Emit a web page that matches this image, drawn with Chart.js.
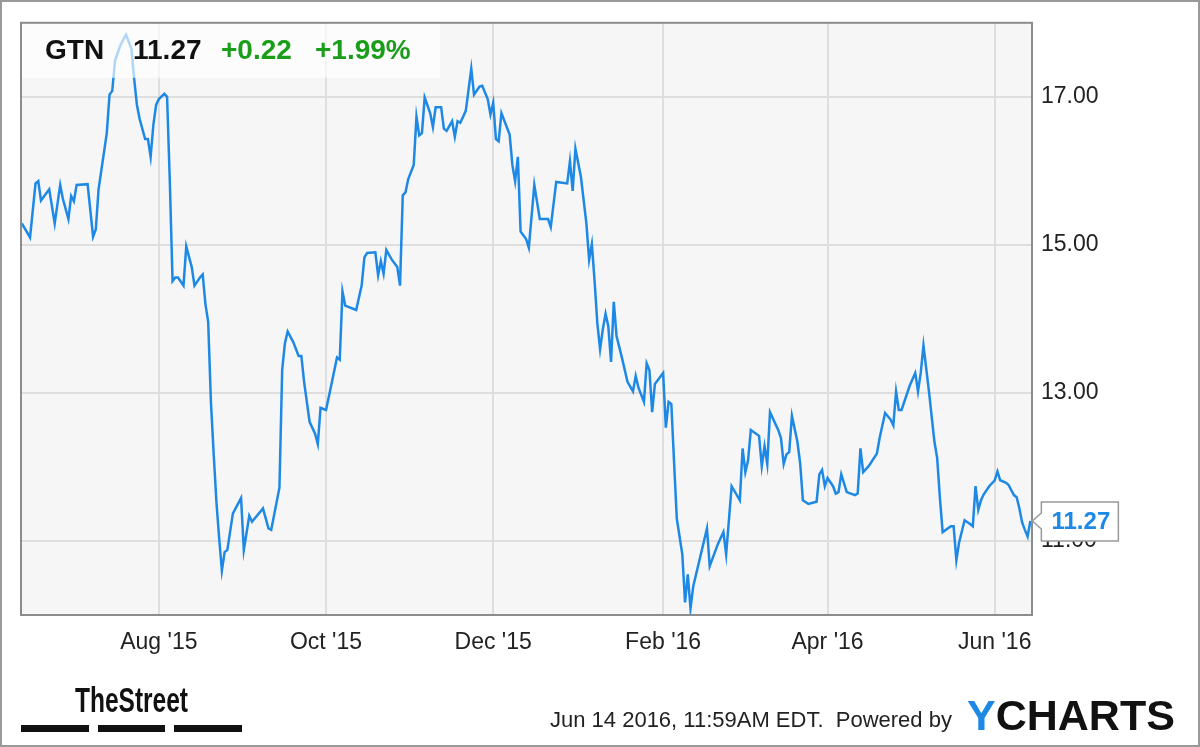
<!DOCTYPE html>
<html>
<head>
<meta charset="utf-8">
<script src="https://cdn.jsdelivr.net/npm/chart.js@4.4.1/dist/chart.umd.min.js"></script>
<style>
  html, body { margin: 0; padding: 0; background: #fff; }
  canvas { display: block; }
</style>
</head>
<body>
<canvas id="chart" width="1200" height="747"></canvas>
<script>
const ticker = 'GTN';
const lastPrice = '11.27';
const change = '+0.22';
const changePct = '+1.99%';
const stamp = 'Jun 14 2016, 11:59AM EDT.  Powered by';

// days counted from 12 Jun 2015
const dayOffsets = [
  0, 3, 5, 6, 7, 9, 10, 12, 14, 15, 17, 18, 19, 20, 24, 26, 27, 28, 31, 32,
  33, 34, 36, 38, 40, 41, 42, 43, 45, 46, 47, 48, 49, 50, 52, 53, 54, 55, 56, 57,
  59, 60, 62, 63, 65, 66, 67, 68, 69, 70, 71, 72, 73, 74, 75, 77, 78, 80, 81, 83,
  84, 88, 90, 91, 94, 95, 96, 97, 99, 101, 102, 103, 105, 107, 108, 109, 111, 113, 115, 116,
  117, 118, 122, 124, 125, 126, 129, 130, 131, 132, 133, 135, 137, 138, 139, 140, 141, 143, 144, 145,
  146, 147, 149, 150, 151, 153, 154, 155, 157, 158, 159, 160, 162, 164, 165, 167, 168, 170, 171, 172,
  173, 174, 175, 178, 179, 180, 181, 182, 184, 185, 187, 189, 192, 193, 195, 199, 200, 201, 202, 204,
  206, 207, 208, 209, 210, 211, 212, 213, 214, 215, 216, 217, 219, 221, 223, 224, 225, 227, 228, 229,
  230, 231, 234, 235, 236, 237, 238, 239, 240, 241, 242, 243, 244, 245, 250, 251, 254, 256, 257, 259,
  262, 263, 264, 265, 266, 269, 270, 271, 272, 273, 276, 277, 278, 279, 280, 281, 283, 284, 285, 287,
  290, 291, 292, 293, 294, 296, 297, 298, 299, 301, 304, 305, 306, 307, 309, 312, 313, 315, 317, 318,
  319, 320, 321, 324, 326, 327, 328, 329, 331, 333, 334, 335, 336, 339, 340, 341, 342, 344, 346, 347,
  348, 349, 350, 351, 353, 355, 356, 357, 359, 360, 362, 363, 364, 365, 366, 367, 368
];

const prices = [
  15.29, 15.10, 15.83, 15.86, 15.60, 15.70, 15.75, 15.29, 15.81, 15.62, 15.35, 15.66, 15.59, 15.81, 15.82, 15.11, 15.21, 15.75, 16.51, 17.03,
  17.08, 17.49, 17.70, 17.84, 17.65, 17.24, 16.89, 16.70, 16.43, 16.43, 16.19, 16.62, 16.89, 16.97, 17.04, 17.00, 15.86, 14.51, 14.56, 14.56,
  14.45, 14.98, 14.70, 14.45, 14.56, 14.60, 14.20, 13.96, 12.88, 12.18, 11.53, 11.04, 10.60, 10.85, 10.88, 11.37, 11.44, 11.58, 10.88, 11.34,
  11.26, 11.44, 11.17, 11.15, 11.72, 13.31, 13.67, 13.83, 13.69, 13.50, 13.50, 13.15, 12.61, 12.45, 12.31, 12.80, 12.77, 13.12, 13.48, 13.45,
  14.37, 14.18, 14.12, 14.45, 14.83, 14.89, 14.90, 14.59, 14.78, 14.61, 14.93, 14.80, 14.70, 14.45, 15.67, 15.71, 15.89, 16.08, 16.73, 16.48,
  16.51, 16.99, 16.78, 16.59, 16.86, 16.86, 16.57, 16.54, 16.67, 16.46, 16.67, 16.65, 16.81, 17.38, 17.03, 17.14, 17.15, 16.97, 16.76, 16.92,
  16.43, 16.40, 16.78, 16.49, 16.08, 15.86, 16.19, 15.18, 15.08, 14.96, 15.81, 15.35, 15.35, 15.24, 15.85, 15.83, 16.13, 15.73, 16.30, 15.92,
  15.29, 14.80, 15.01, 14.51, 13.94, 13.59, 13.86, 14.07, 13.90, 13.42, 14.23, 13.77, 13.47, 13.15, 13.02, 13.23, 13.07, 12.88, 13.40, 13.31,
  12.74, 13.12, 13.27, 12.53, 12.88, 12.85, 12.06, 11.30, 11.06, 10.82, 10.17, 10.55, 10.09, 10.39, 11.17, 10.66, 10.96, 11.12, 10.82, 11.74,
  11.55, 12.25, 11.93, 12.09, 12.50, 12.42, 12.01, 12.28, 12.04, 12.74, 12.50, 12.39, 12.04, 12.17, 12.20, 12.69, 12.34, 12.05, 11.55, 11.50,
  11.53, 11.90, 11.96, 11.74, 11.85, 11.74, 11.64, 11.66, 11.90, 11.66, 11.62, 11.64, 12.25, 11.93, 12.01, 12.18, 12.39, 12.73, 12.64, 12.56,
  13.02, 12.77, 12.77, 13.10, 13.27, 13.02, 13.27, 13.64, 13.02, 12.34, 12.12, 11.58, 11.12, 11.20, 11.20, 10.74, 10.98, 11.28, 11.23, 11.20,
  11.74, 11.42, 11.55, 11.63, 11.74, 11.82, 11.94, 11.82, 11.79, 11.76, 11.62, 11.59, 11.44, 11.25, 11.15, 11.06, 11.27
];

const tickDays = [50, 111, 172, 234, 294, 355];
const tickLabels = ["Aug '15", "Oct '15", "Dec '15", "Feb '16", "Apr '16", "Jun '16"];
const priceTicks = [11, 13, 15, 17];

const blue = '#1e88e5';
const green = '#1a9e1a';
const font = '"Liberation Sans", Arial, sans-serif';

const points = dayOffsets.map((d, i) => ({ x: d, y: prices[i] }));

const decor = {
  id: 'decor',
  beforeDraw(chart) {
    const { ctx, chartArea: a, width, height } = chart;
    ctx.save();
    ctx.fillStyle = '#fff';
    ctx.fillRect(0, 0, width, height);
    ctx.fillStyle = '#f6f6f6';
    ctx.fillRect(a.left, a.top, a.right - a.left, a.bottom - a.top);
    ctx.restore();
  },
  afterDatasetsDraw(chart) {
    const { ctx, chartArea: a } = chart;
    ctx.save();
    // quote box, over the line
    ctx.fillStyle = 'rgba(255,255,255,0.65)';
    ctx.fillRect(a.left + 1, a.top + 1, 418, 54);
    ctx.textBaseline = 'alphabetic';
    ctx.font = 'bold 28px ' + font;
    ctx.fillStyle = '#111';
    ctx.fillText(ticker, 45, 59);
    ctx.fillText(lastPrice, 133, 59);
    ctx.fillStyle = green;
    ctx.fillText(change, 221, 59);
    ctx.fillText(changePct, 315, 59);
    // plot frame
    ctx.strokeStyle = '#8c8c8c';
    ctx.lineWidth = 2;
    ctx.strokeRect(a.left, a.top, a.right - a.left, a.bottom - a.top);
    ctx.restore();
  },
  afterDraw(chart) {
    const { ctx, width, height } = chart;
    const meta = chart.getDatasetMeta(0).data;
    const last = meta[meta.length - 1];
    ctx.save();

    // last value callout
    const bx = last.x + 11, by = last.y - 19, bw = 77, bh = 39;
    ctx.beginPath();
    ctx.moveTo(bx, by);
    ctx.lineTo(bx + bw, by);
    ctx.lineTo(bx + bw, by + bh);
    ctx.lineTo(bx, by + bh);
    ctx.lineTo(bx, last.y + 8);
    ctx.lineTo(last.x + 2, last.y);
    ctx.lineTo(bx, last.y - 8);
    ctx.closePath();
    ctx.fillStyle = '#fff';
    ctx.fill();
    ctx.strokeStyle = '#999';
    ctx.lineWidth = 1.5;
    ctx.stroke();
    ctx.fillStyle = blue;
    ctx.font = 'bold 24px ' + font;
    ctx.textAlign = 'center';
    ctx.textBaseline = 'middle';
    ctx.fillText(prices[prices.length - 1].toFixed(2), bx + bw / 2 + 1, by + bh / 2 + 1);

    // footer
    ctx.textAlign = 'left';
    ctx.textBaseline = 'alphabetic';
    ctx.fillStyle = '#222';
    ctx.font = '22px ' + font;
    ctx.fillText(stamp, 550, 727);

    ctx.font = 'bold 43px ' + font;
    ctx.fillStyle = blue;
    ctx.fillText('Y', 967, 730);
    const yw = ctx.measureText('Y').width;
    ctx.fillStyle = '#111';
    ctx.fillText('CHARTS', 967 + yw, 730);

    // TheStreet logo
    ctx.save();
    ctx.font = 'bold 35px ' + font;
    const tw = ctx.measureText('TheStreet').width;
    ctx.translate(75, 712);
    ctx.scale(113 / tw, 1);
    ctx.fillStyle = '#111';
    ctx.fillText('TheStreet', 0, 0);
    ctx.restore();
    ctx.fillStyle = '#111';
    ctx.fillRect(21, 725, 68, 7);
    ctx.fillRect(98, 725, 67, 7);
    ctx.fillRect(174, 725, 68, 7);

    // outer frame
    ctx.strokeStyle = '#999';
    ctx.lineWidth = 2;
    ctx.strokeRect(1, 1, width - 2, height - 2);
    ctx.restore();
  }
};

new Chart(document.getElementById('chart'), {
  type: 'line',
  data: {
    datasets: [{
      data: points,
      borderColor: blue,
      borderWidth: 2.5,
      pointRadius: 0,
      tension: 0,
      fill: false
    }]
  },
  options: {
    responsive: false,
    animation: false,
    devicePixelRatio: 1,
    layout: { padding: { left: 21, top: 21, right: 0, bottom: 0 } },
    plugins: { legend: { display: false }, tooltip: { enabled: false } },
    scales: {
      x: {
        type: 'linear',
        min: -0.3,
        max: 368.6,
        afterBuildTicks(scale) { scale.ticks = tickDays.map(v => ({ value: v })); },
        afterFit(scale) { scale.height = 132; },
        grid: { color: '#dedede', lineWidth: 2, drawTicks: false },
        border: { display: false },
        ticks: {
          padding: 14,
          color: '#222',
          font: { family: font, size: 23 },
          maxRotation: 0,
          autoSkip: false,
          callback: (v, i) => tickLabels[i]
        }
      },
      y: {
        position: 'right',
        min: 10,
        max: 18,
        afterBuildTicks(scale) { scale.ticks = priceTicks.map(v => ({ value: v })); },
        afterFit(scale) { scale.width = 168; },
        grid: { color: '#dedede', lineWidth: 2, drawTicks: false },
        border: { display: false },
        ticks: {
          padding: 9,
          color: '#222',
          font: { family: font, size: 23 },
          callback: v => v.toFixed(2)
        }
      }
    }
  },
  plugins: [decor]
});
</script>
</body>
</html>
